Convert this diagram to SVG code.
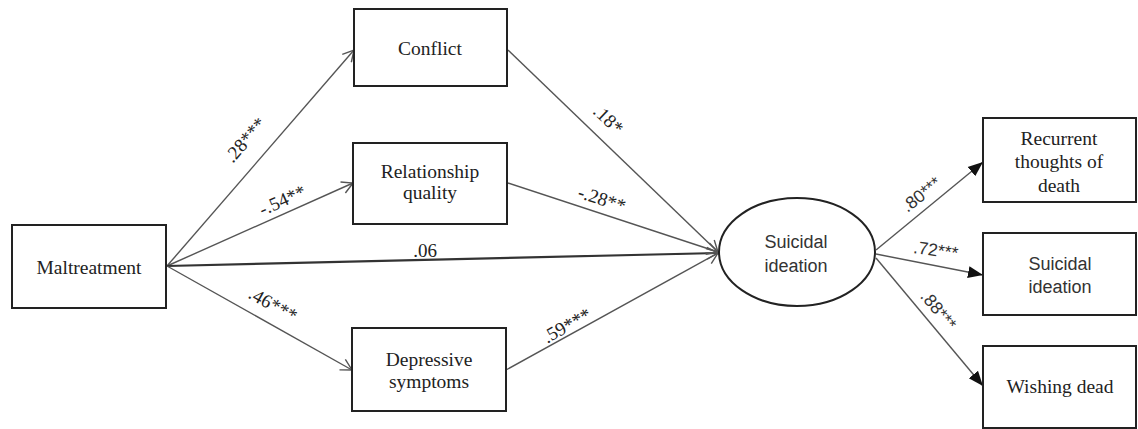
<svg xmlns="http://www.w3.org/2000/svg" width="1138" height="429" viewBox="0 0 1138 429">
<style>
.box{fill:#fff;stroke:#222;stroke-width:2}
.serif{font-family:"Liberation Serif","Times New Roman",serif;font-size:19.5px;fill:#222;text-anchor:middle}
.sans{font-family:"Liberation Sans",Arial,sans-serif;font-size:18px;fill:#333;text-anchor:middle}
.lab{font-family:"Liberation Serif","Times New Roman",serif;font-size:19px;fill:#222;text-anchor:middle}
.labs{font-family:"Liberation Sans",Arial,sans-serif;font-size:17.5px;fill:#333;text-anchor:middle}
.ln{stroke:#555;stroke-width:1.4;fill:none}
</style>
<defs>
<marker id="open" markerWidth="14" markerHeight="14" refX="12" refY="7" orient="auto" markerUnits="userSpaceOnUse">
<path d="M1,1 L12,7 L1,13" fill="none" stroke="#555" stroke-width="1.4"/>
</marker>
<marker id="fill" markerWidth="16" markerHeight="14" refX="15" refY="7" orient="auto" markerUnits="userSpaceOnUse">
<path d="M0,1 L15,7 L0,13 Z" fill="#111"/>
</marker>
</defs>
<rect width="1138" height="429" fill="#fff"/>
<g id="connectors">
<line class="ln" x1="167" y1="266" x2="354" y2="50" marker-end="url(#open)"/>
<line class="ln" x1="167" y1="266" x2="353" y2="183" marker-end="url(#open)"/>
<line class="ln" x1="167" y1="266" x2="718" y2="253" marker-end="url(#open)" style="stroke:#333;stroke-width:2.2"/>
<line class="ln" x1="167" y1="266" x2="352" y2="370" marker-end="url(#open)"/>
<line class="ln" x1="508" y1="50" x2="718" y2="252" marker-end="url(#open)"/>
<line class="ln" x1="508" y1="183" x2="718" y2="252" marker-end="url(#open)"/>
<line class="ln" x1="506" y1="370" x2="718" y2="253" marker-end="url(#open)"/>
<line class="ln" x1="876" y1="250" x2="983" y2="162" marker-end="url(#fill)"/>
<line class="ln" x1="876" y1="254" x2="983" y2="275" marker-end="url(#fill)"/>
<line class="ln" x1="876" y1="258" x2="983" y2="386" marker-end="url(#fill)"/>
<text class="lab" transform="translate(250,144) rotate(-49)">.28***</text>
<text class="lab" transform="translate(285,206) rotate(-24)">-.54**</text>
<text class="lab" x="425" y="257">.06</text>
<text class="lab" transform="translate(270,310) rotate(29)">.46***</text>
<text class="lab" transform="translate(604,124) rotate(44)">.18*</text>
<text class="lab" transform="translate(600,205) rotate(18)">-.28**</text>
<text class="lab" transform="translate(570,331) rotate(-29)">.59***</text>
<text class="labs" transform="translate(925,199) rotate(-39)">.80***</text>
<text class="labs" transform="translate(935,256) rotate(8)">.72***</text>
<text class="labs" transform="translate(934,314) rotate(50)">.88***</text>
</g>
<g id="maltreatment"><rect class="box" x="12" y="225" width="154" height="83"/><text class="serif" x="89" y="274">Maltreatment</text></g>
<g id="conflict"><rect class="box" x="354" y="9" width="153" height="77"/><text class="serif" x="430" y="55">Conflict</text></g>
<g id="relationship"><rect class="box" x="353" y="143" width="154" height="81"/><text class="serif" x="430" y="178">Relationship</text><text class="serif" x="430" y="199">quality</text></g>
<g id="depressive"><rect class="box" x="352" y="328" width="154" height="83"/><text class="serif" x="429" y="366">Depressive</text><text class="serif" x="429" y="388">symptoms</text></g>
<g id="latent"><ellipse cx="797" cy="252" rx="78" ry="54" fill="#fff" stroke="#222" stroke-width="2"/><text class="sans" x="796" y="248">Suicidal</text><text class="sans" x="796" y="272">ideation</text></g>
<g id="recurrent"><rect class="box" x="983" y="118" width="153" height="84"/><text class="serif" x="1059" y="145">Recurrent</text><text class="serif" x="1059" y="168">thoughts of</text><text class="serif" x="1059" y="192">death</text></g>
<g id="suicidal-box"><rect class="box" x="983" y="233" width="153" height="82"/><text class="sans" x="1060" y="270">Suicidal</text><text class="sans" x="1060" y="293">ideation</text></g>
<g id="wishing"><rect class="box" x="983" y="346" width="153" height="82"/><text class="serif" x="1060" y="393">Wishing dead</text></g>
</svg>
